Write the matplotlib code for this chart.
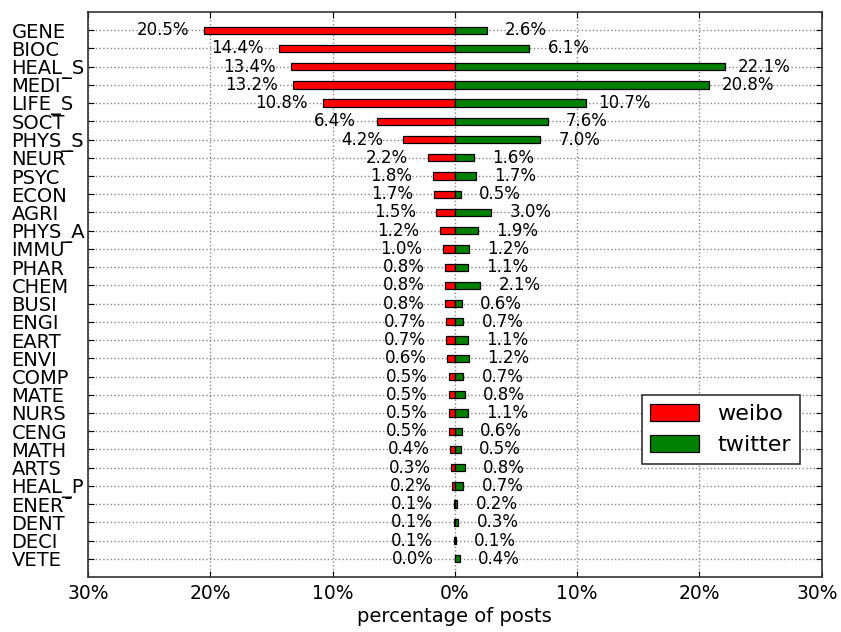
import matplotlib
matplotlib.use("Agg")
import matplotlib.pyplot as plt
import matplotlib.transforms as mtransforms
from matplotlib.ticker import FuncFormatter

# subject categories, top to bottom
categories = ["GENE", "BIOC", "HEAL_S", "MEDI\u00af", "LIFE_S", "SOCT", "PHYS_S",
              "NEUR\u00af", "PSYC", "ECON", "AGRI", "PHYS_A", "IMMU\u00af", "PHAR",
              "CHEM", "BUSI", "ENGI", "EART", "ENVI", "COMP", "MATE", "NURS",
              "CENG", "MATH", "ARTS", "HEAL_P", "ENER\u00af", "DENT", "DECI", "VETE"]

weibo = [20.5, 14.4, 13.4, 13.2, 10.8, 6.4, 4.2, 2.2, 1.8, 1.7, 1.5, 1.2, 1.0, 0.8,
         0.8, 0.8, 0.7, 0.7, 0.6, 0.5, 0.5, 0.5, 0.5, 0.4, 0.3, 0.2, 0.1, 0.1, 0.1, 0.0]

twitter = [2.6, 6.1, 22.1, 20.8, 10.7, 7.6, 7.0, 1.6, 1.7, 0.5, 3.0, 1.9, 1.2, 1.1,
           2.1, 0.6, 0.7, 1.1, 1.2, 0.7, 0.8, 1.1, 0.6, 0.5, 0.8, 0.7, 0.2, 0.3, 0.1, 0.4]

xticks = [-30, -20, -10, 0, 10, 20, 30]

plt.rcParams['font.family'] = ['DejaVu Sans']

fig = plt.figure(figsize=(8.41, 6.32), dpi=100)
ax = fig.add_axes([0.1046, 0.0870, 0.8724, 0.8940])

n = len(categories)
ypos = [n - 1 - i for i in range(n)]

ax.barh(ypos, [-v for v in weibo], height=0.4, color='#ff0000',
        edgecolor='black', linewidth=0.9, label='weibo', zorder=3)
ax.barh(ypos, twitter, height=0.4, color='#008000',
        edgecolor='black', linewidth=0.9, label='twitter', zorder=3)

# value labels next to the bars
for y, w, t in zip(ypos, weibo, twitter):
    ax.text(-w - 3.4, y, "%.1f%%" % w, ha='center', va='center', fontsize=12, zorder=4)
    ax.text(t + 3.2, y, "%.1f%%" % t, ha='center', va='center', fontsize=12, zorder=4)

ax.set_xlim(-30, 30)
ax.set_ylim(-1, n)
ax.set_xticks(xticks)
ax.xaxis.set_major_formatter(FuncFormatter(lambda v, p: "%d%%" % abs(v)))
ax.set_yticks(ypos)
ax.set_yticklabels(categories, fontsize=14)
for lab in ax.get_yticklabels():
    lab.set_ha('left')

ax.tick_params(axis='y', direction='in', left=True, right=True, pad=55, length=4)
ax.tick_params(axis='x', direction='in', top=True, bottom=True, labelsize=13.5, pad=5, length=4)

# keep the last x label inside the figure
fig.canvas.draw()
last = ax.get_xticklabels()[-1]
last.set_transform(last.get_transform() +
                   mtransforms.ScaledTranslation(-4 / 100, 0, fig.dpi_scale_trans))

ax.grid(True, linestyle=':', color='#888888', linewidth=1.0, zorder=0)
ax.set_axisbelow(True)
for s in ax.spines.values():
    s.set_linewidth(1.2)
    s.set_color('#333333')

ax.set_xlabel("percentage of posts", fontsize=14, labelpad=3)

leg = ax.legend(loc='lower right', bbox_to_anchor=(0.97, 0.2), borderaxespad=0,
                fontsize=16, handlelength=2.2, handleheight=0.8, fancybox=False,
                edgecolor='#333333', framealpha=1)
leg.get_frame().set_linewidth(1.2)

fig.savefig("out.png", dpi=100)
